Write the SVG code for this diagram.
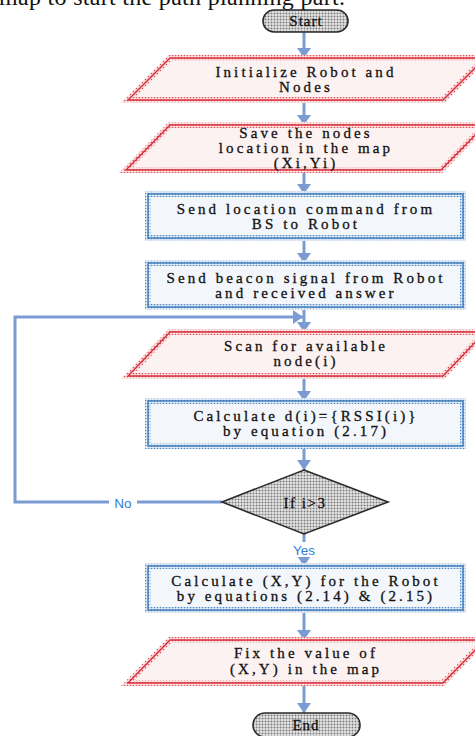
<svg xmlns="http://www.w3.org/2000/svg" width="475" height="736" viewBox="0 0 475 736">
<style>
.t{font-family:"Liberation Serif","Times New Roman",serif;font-size:15px;fill:#111;stroke:#111;stroke-width:0.3;letter-spacing:3.1px;text-anchor:middle}
.lbl{font-family:"Liberation Sans",Arial,sans-serif;font-size:13.5px;fill:#2d7fd4;text-anchor:middle}
.io{fill:#fdf2f2;stroke:url(#redDots);stroke-width:6}
.ioEdge{fill:none;stroke:#d8303b;stroke-width:1.4}
.pr{fill:#f3f7fc;stroke:url(#blueDots);stroke-width:6}
.prEdge{fill:none;stroke:#3a78b8;stroke-width:1.4}
.term{fill:url(#grayDots);stroke:#2a2a2a;stroke-width:1.6}
.c{fill:none;stroke:#7b9cd3;stroke-width:3}
</style>
<defs>
<pattern id="redDots" width="3" height="3" patternUnits="userSpaceOnUse">
<rect width="3" height="3" fill="#fbe6e7"/>
<circle cx="1.5" cy="1.5" r="0.85" fill="#e05058"/>
</pattern>
<pattern id="blueDots" width="3" height="3" patternUnits="userSpaceOnUse">
<rect width="3" height="3" fill="#e4edf7"/>
<circle cx="1.5" cy="1.5" r="0.85" fill="#4d88c5"/>
</pattern>
<pattern id="grayDots" width="3" height="3" patternUnits="userSpaceOnUse">
<rect width="3" height="3" fill="#e6e6e6"/>
<circle cx="1.5" cy="1.5" r="1" fill="#7a7a7a"/>
</pattern>
<marker id="ah" markerUnits="userSpaceOnUse" markerWidth="16" markerHeight="14" refX="10" refY="7" orient="auto">
<path d="M0,0 L10,7 L0,14 Z" fill="#7b9cd3"/>
</marker>
</defs>

<text x="-1" y="4.5" font-family="Liberation Serif, serif" font-size="24" fill="#111" textLength="346" lengthAdjust="spacing">map to start the path planning part.</text>

<g id="connectors">
<line class="c" x1="304" y1="32" x2="304" y2="58" marker-end="url(#ah)"/>
<line class="c" x1="304" y1="100" x2="304" y2="125" marker-end="url(#ah)"/>
<line class="c" x1="304" y1="170" x2="304" y2="194" marker-end="url(#ah)"/>
<line class="c" x1="304" y1="238" x2="304" y2="263" marker-end="url(#ah)"/>
<line class="c" x1="304" y1="307" x2="304" y2="332" marker-end="url(#ah)"/>
<line class="c" x1="304" y1="376" x2="304" y2="401" marker-end="url(#ah)"/>
<line class="c" x1="304" y1="446" x2="304" y2="470" marker-end="url(#ah)"/>
<line class="c" x1="304" y1="534" x2="304" y2="566" marker-end="url(#ah)"/>
<line class="c" x1="304" y1="610" x2="304" y2="640" marker-end="url(#ah)"/>
<line class="c" x1="304" y1="683" x2="304" y2="713" marker-end="url(#ah)"/>
<polyline class="c" points="222,502 15,502 15,317 303,317" marker-end="url(#ah)"/>
<rect x="109" y="495" width="28" height="15" fill="#fff"/>
<text class="lbl" x="123" y="508">No</text>
<rect x="287" y="542" width="34" height="15" fill="#fff"/>
<text class="lbl" x="304" y="555">Yes</text>
</g>

<g id="start">
<rect class="term" x="263" y="10" width="85" height="22" rx="11"/>
<text class="t" x="306" y="26" style="letter-spacing:1px">Start</text>
</g>

<g id="init">
<polygon class="io" points="170,58 485,58 443,100 128,100"/>
<polygon class="ioEdge" points="170,58 485,58 443,100 128,100"/>
<text class="t" x="306" y="77">Initialize Robot and</text>
<text class="t" x="306" y="92">Nodes</text>
</g>

<g id="save">
<polygon class="io" points="170,125 485,125 441,170 126,170"/>
<polygon class="ioEdge" points="170,125 485,125 441,170 126,170"/>
<text class="t" x="306" y="138">Save the nodes</text>
<text class="t" x="306" y="153">location in the map</text>
<text class="t" x="306" y="168">(Xi,Yi)</text>
</g>

<g id="sendloc">
<rect class="pr" x="148" y="194" width="315" height="44"/>
<rect class="prEdge" x="148" y="194" width="315" height="44"/>
<text class="t" x="306" y="214">Send location command from</text>
<text class="t" x="306" y="229">BS to Robot</text>
</g>

<g id="beacon">
<rect class="pr" x="148" y="263" width="315" height="44"/>
<rect class="prEdge" x="148" y="263" width="315" height="44"/>
<text class="t" x="306" y="283">Send beacon signal from Robot</text>
<text class="t" x="306" y="298">and received answer</text>
</g>

<g id="scan">
<polygon class="io" points="170,332 485,332 443,376 128,376"/>
<polygon class="ioEdge" points="170,332 485,332 443,376 128,376"/>
<text class="t" x="306" y="351">Scan for available</text>
<text class="t" x="306" y="366">node(i)</text>
</g>

<g id="calcd">
<rect class="pr" x="148" y="401" width="315" height="45"/>
<rect class="prEdge" x="148" y="401" width="315" height="45"/>
<text class="t" x="306" y="421">Calculate d(i)={RSSI(i)}</text>
<text class="t" x="306" y="436">by equation (2.17)</text>
</g>

<g id="decision">
<polygon class="term" points="304,470 388,502 304,534 222,502"/>
<text class="t" x="305" y="508" style="letter-spacing:1.5px">If i&gt;3</text>
</g>

<g id="calcxy">
<rect class="pr" x="148" y="566" width="315" height="44"/>
<rect class="prEdge" x="148" y="566" width="315" height="44"/>
<text class="t" x="306" y="586">Calculate (X,Y) for the Robot</text>
<text class="t" x="306" y="601">by equations (2.14) &amp; (2.15)</text>
</g>

<g id="fix">
<polygon class="io" points="170,640 485,640 443,683 128,683"/>
<polygon class="ioEdge" points="170,640 485,640 443,683 128,683"/>
<text class="t" x="306" y="658">Fix the value of</text>
<text class="t" x="306" y="674">(X,Y) in the map</text>
</g>

<g id="end">
<rect class="term" x="253" y="713" width="107" height="24" rx="12"/>
<text class="t" x="306" y="730" style="letter-spacing:1px">End</text>
</g>
</svg>
